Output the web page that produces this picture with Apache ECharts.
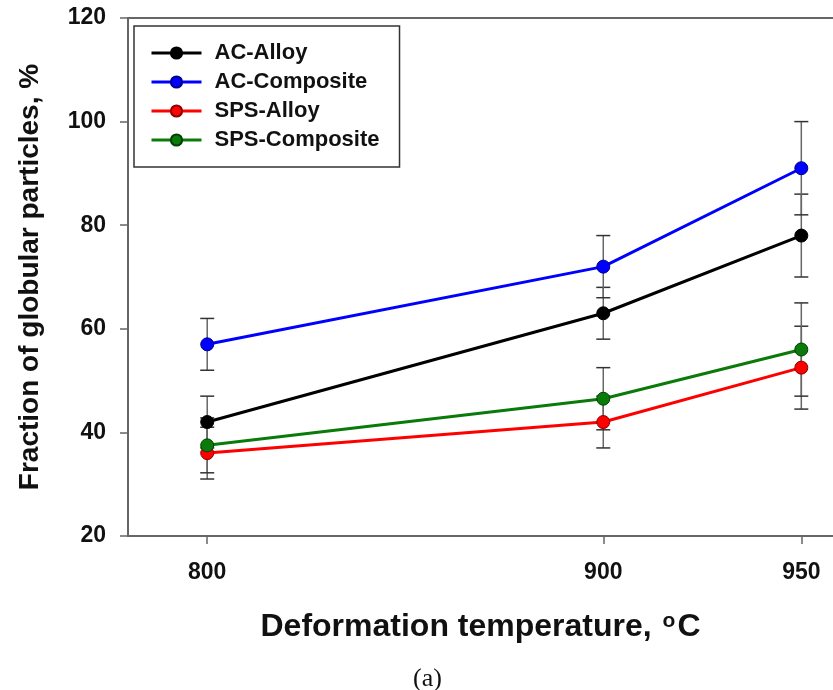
<!DOCTYPE html>
<html><head><meta charset="utf-8">
<script src="https://cdn.jsdelivr.net/npm/echarts@6/dist/echarts.min.js"></script>
<style>html,body{margin:0;padding:0;background:#fff}#c{width:833px;height:690px}</style>
</head><body><div id="c"></div>
<script>
const temps = [800, 900, 950];
const seriesNames = ['AC-Alloy', 'AC-Composite', 'SPS-Alloy', 'SPS-Composite'];
const acAlloy = [42, 63, 78];
const acAlloyErr = [5, 5, 8];
const acComposite = [57, 72, 91];
const acCompositeErr = [5, 6, 9];
const spsAlloy = [36, 42, 52.5];
const spsAlloyErr = [5, 5, 8];
const spsComposite = [37.5, 46.5, 56];
const spsCompositeErr = [5.3, 6, 9];
const yTicks = [20, 40, 60, 80, 100, 120];
const xTicks = [800, 900, 950];
const colors = ['#000000', '#0000ff', '#ff0000', '#0a7a0a'];
const borders = ['#000000', '#00008a', '#8a0000', '#004000'];

const values = [acAlloy, acComposite, spsAlloy, spsComposite];
const errors = [acAlloyErr, acCompositeErr, spsAlloyErr, spsCompositeErr];
const FONT = 'Liberation Sans, Arial, sans-serif';

const chart = echarts.init(document.getElementById('c'), null, {renderer: 'canvas'});

const errSeries = values.map((vals, si) => ({
  type: 'custom',
  name: 'err' + si,
  z: 1,
  silent: true,
  data: temps.map((t, i) => [t, vals[i] - errors[si][i], vals[i] + errors[si][i]]),
  renderItem: function (params, api) {
    const lo = api.coord([api.value(0), api.value(1)]);
    const hi = api.coord([api.value(0), api.value(2)]);
    const w = 7;
    const st = {stroke: '#333', lineWidth: 1.5};
    return {type: 'group', children: [
      {type: 'line', shape: {x1: lo[0], y1: lo[1], x2: hi[0], y2: hi[1]}, style: {stroke: '#666', lineWidth: 1.5}},
      {type: 'line', shape: {x1: lo[0] - w, y1: lo[1], x2: lo[0] + w, y2: lo[1]}, style: st},
      {type: 'line', shape: {x1: hi[0] - w, y1: hi[1], x2: hi[0] + w, y2: hi[1]}, style: st}
    ]};
  },
  encode: {x: 0, y: [1, 2]}
}));

const lineSeries = values.map((vals, si) => ({
  type: 'line',
  name: seriesNames[si],
  z: 3,
  data: temps.map((t, i) => [t, vals[i]]),
  symbol: 'circle',
  symbolSize: 13,
  lineStyle: {color: colors[si], width: 3},
  itemStyle: {color: colors[si], borderColor: borders[si], borderWidth: 1},
  emphasis: {disabled: true}
}));

chart.setOption({
  animation: false,
  backgroundColor: '#fff',
  grid: {left: 128, top: 18, right: 0, bottom: 154, containLabel: false},
  legend: {
    orient: 'vertical',
    left: 134, top: 26,
    data: seriesNames,
    itemWidth: 50, itemHeight: 14, itemGap: 7,
    padding: [16, 20, 16, 16],
    borderColor: '#333', borderWidth: 1.5,
    lineStyle: {width: 3},
    textStyle: {fontFamily: FONT, fontWeight: 'bold', fontSize: 22, lineHeight: 22, color: '#111', padding: [0, 0, 0, 8]},
    selectedMode: false
  },
  xAxis: [{
    type: 'value', min: 780, max: 958,
    splitLine: {show: false},
    axisLine: {lineStyle: {color: '#666', width: 2}},
    axisTick: {show: true, length: 8, lineStyle: {color: '#666', width: 1.5}, customValues: xTicks},
    axisLabel: {customValues: xTicks, margin: 25, fontFamily: FONT, fontWeight: 'bold', fontSize: 23, color: '#111'},
    name: 'Deformation temperature, {s|o}C',
    nameLocation: 'middle', nameGap: 75,
    nameTextStyle: {fontFamily: FONT, fontWeight: 'bold', fontSize: 32, color: '#111',
      rich: {s: {fontFamily: FONT, fontWeight: 'bold', fontSize: 21, color: '#111', verticalAlign: 'top', padding: [0, 2, 12, 2]}}}
  }, {
    type: 'value', min: 780, max: 958, position: 'top',
    axisLine: {show: true, lineStyle: {color: '#666', width: 2}},
    axisTick: {show: false}, axisLabel: {show: false}, splitLine: {show: false}
  }],
  yAxis: {
    type: 'value', min: 20, max: 120, interval: 20,
    splitLine: {show: false},
    axisLine: {show: true, lineStyle: {color: '#666', width: 2}},
    axisTick: {show: true, length: 8, lineStyle: {color: '#666', width: 1.5}},
    axisLabel: {margin: 22, fontFamily: FONT, fontWeight: 'bold', fontSize: 23, color: '#111',
      customValues: yTicks},
    name: 'Fraction of globular particles, %',
    nameLocation: 'middle', nameGap: 84,
    nameTextStyle: {fontFamily: FONT, fontWeight: 'bold', fontSize: 28, color: '#111'}
  },
  graphic: [{
    type: 'text', left: 413, top: 666,
    style: {text: '(a)', font: '26px "Liberation Serif", "DejaVu Serif", serif', fill: '#111'}
  }],
  series: errSeries.concat(lineSeries)
});
</script>
</body></html>
